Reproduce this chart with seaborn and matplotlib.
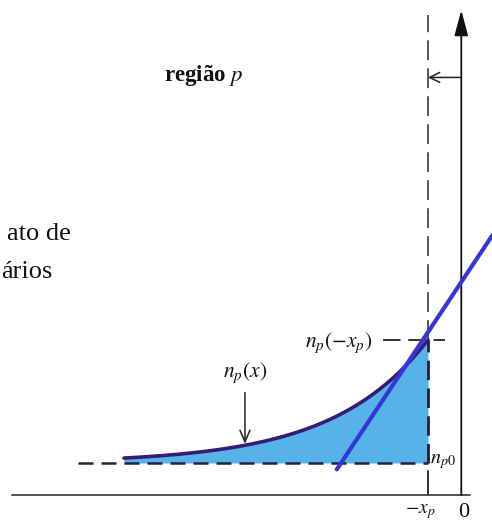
import numpy as np
import pandas as pd
import matplotlib
matplotlib.use("Agg")
import matplotlib.pyplot as plt
import seaborn as sns

# Minority-carrier profile on the p side of the junction (x measured from the junction)
x_p = 1.0            # depletion edge on the p side sits at -x_p
n_p0 = 1.0           # equilibrium electron density in the p region
n_edge = 4.85        # n_p(-x_p), injected density at the depletion edge
L_n = 2.95           # diffusion length
x_start = -10.5      # where the drawn profile begins

# Straight blue overlay line (two end points)
blue_x = [-3.85, 1.2]
blue_n = [0.80, 8.4]

# Axis extents
x_axis_span = [-14.0, 0.32]
y_axis_top = 15.15
dash_top = 15.0
base_left = -11.95

sns.set_theme(style="white")
plt.rcParams["mathtext.fontset"] = "stix"
plt.rcParams["font.family"] = ["Liberation Serif", "DejaVu Serif"]

fig = plt.figure(figsize=(4.92, 5.23), dpi=100)
ax = fig.add_axes([0, 0, 1, 1])
ax.set_xlim(-14.375, 1.0)
ax.set_ylim(-0.875, 15.47)
ax.axis("off")

# Exponential decay of excess electrons away from the depletion edge
xs = np.linspace(x_start, -x_p, 300)
profile = pd.DataFrame({
    "x": xs,
    "n": n_p0 + (n_edge - n_p0) * np.exp((xs + x_p) / L_n),
})

ax.fill_between(profile["x"], n_p0, profile["n"], color="#55b3ea", lw=0, zorder=1)
sns.lineplot(data=profile, x="x", y="n", ax=ax, color="#361c74", lw=2.6,
             zorder=4, sort=False)

# Equilibrium level n_p0 (dashed)
ax.plot([base_left, -x_p], [n_p0, n_p0], color="#23233f", lw=1.8,
        ls=(0, (6.0, 3.2)), zorder=3)

# Depletion-edge marker at -x_p
ax.plot([-x_p, -x_p], [n_edge, dash_top], color="#4a4a4a", lw=1.3,
        ls=(0, (11.0, 4.5)), zorder=2)
ax.plot([-x_p, -x_p], [n_p0, n_edge], color="#20203a", lw=2.0,
        ls=(0, (7.0, 3.0)), zorder=3)
ax.plot([-x_p, -x_p], [0, n_p0 - 0.25], color="#333333", lw=1.4, zorder=2)

# Dashed guide at n_p(-x_p)
ax.plot([-2.4, -0.47], [n_edge, n_edge], color="#333333", lw=1.4,
        ls=(0, (9.0, 4.0)), zorder=3)

# Blue overlay line
sns.lineplot(x=blue_x, y=blue_n, ax=ax, color="#3636d8", lw=3.0, zorder=5)

# Axes: x axis and y axis with arrowhead
ax.plot(x_axis_span, [0, 0], color="#444444", lw=1.3, zorder=2)
ax.annotate("", xy=(0.04, y_axis_top), xytext=(0.04, 0),
            arrowprops=dict(arrowstyle="-|>,head_length=1.3,head_width=0.35",
                            color="#111111", lw=1.3, shrinkA=0, shrinkB=0),
            zorder=2)

# Small arrow marking the width x_p
ax.annotate("", xy=(-x_p, 13.05), xytext=(0.04, 13.05),
            arrowprops=dict(arrowstyle="->,head_length=0.6,head_width=0.3",
                            color="#222222", lw=1.1, shrinkA=0, shrinkB=0))

# Arrow pointing at the curve
ax.annotate("", xy=(-6.72, 1.6), xytext=(-6.72, 3.2),
            arrowprops=dict(arrowstyle="->,head_length=0.7,head_width=0.3",
                            color="#222222", lw=1.1, shrinkA=0, shrinkB=0))

# Labels
ax.text(-9.25, 13.1, r"região $p$", fontsize=16.5, fontweight="bold",
        ha="left", va="center", color="#111111")
ax.text(-14.16, 8.16, "ato de", fontsize=19, ha="left", va="center",
        color="#111111")
ax.text(-14.34, 6.97, "ários", fontsize=19, ha="left", va="center",
        color="#111111")
ax.text(-6.72, 3.82, r"$n_p(x)$", fontsize=15.5, ha="center", va="center",
        color="#111111")
ax.text(-2.72, 4.75, r"$n_p(-x_p)$", fontsize=15.5, ha="right", va="center",
        color="#111111")
ax.text(-0.95, 1.05, r"$n_{p0}$", fontsize=14.5, ha="left", va="center",
        color="#111111")
ax.text(-1.25, -0.53, r"$-x_p$", fontsize=14, ha="center", va="center",
        color="#111111")
ax.text(0.1, -0.55, "0", fontsize=16, ha="center", va="center",
        color="#111111")

fig.savefig("out.png", dpi=100, facecolor="white")
